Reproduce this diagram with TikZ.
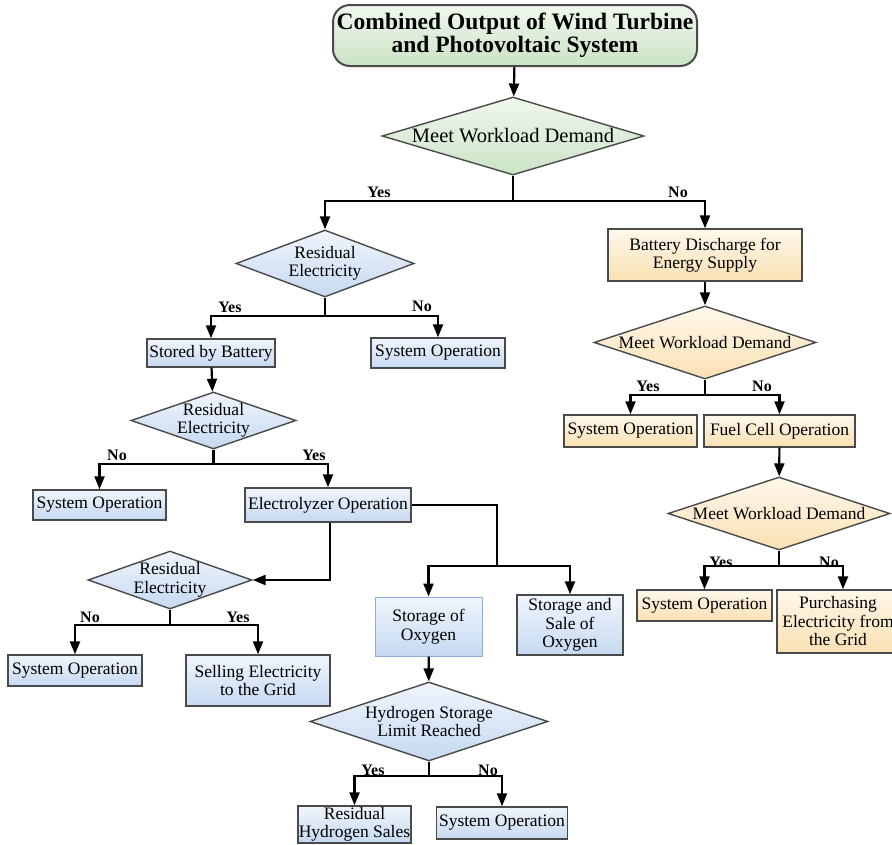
\documentclass[tikz,border=0pt]{standalone}
\usepackage{fontspec}
\setmainfont{Liberation Serif}
\usetikzlibrary{shapes.geometric,arrows.meta}
\definecolor{boxline}{HTML}{4A4A4A}
\definecolor{greenT}{HTML}{F0F8EE}
\definecolor{greenB}{HTML}{CBE3C6}
\definecolor{blueT}{HTML}{F0F5FC}
\definecolor{blueB}{HTML}{C6D9F1}
\definecolor{yelT}{HTML}{FFF8EC}
\definecolor{yelB}{HTML}{F9E0B2}
\definecolor{lightblueline}{HTML}{8CACDC}
\begin{document}
\begin{tikzpicture}[x=1pt,y=-1pt,
  every node/.style={font=\fontsize{17.5}{18.5}\selectfont, align=center, inner sep=0pt},
  box/.style={rectangle, draw=boxline, line width=1.4pt},
  bluebox/.style={box, top color=blueT, bottom color=blueB},
  yelbox/.style={box, top color=yelT, bottom color=yelB},
  dia/.style={diamond, draw=boxline, line width=1.4pt, aspect=3},
  bluedia/.style={dia, top color=blueT, bottom color=blueB},
  yeldia/.style={dia, top color=yelT, bottom color=yelB},
  greendia/.style={dia, top color=greenT, bottom color=greenB},
  conn/.style={line width=2.2pt, black},
  arr/.style={conn, -{Triangle[length=13pt,width=10pt]}},
  lab/.style={font=\fontsize{16}{16}\bfseries\selectfont}
]
\useasboundingbox (0,0) rectangle (892,844);
\fill[white] (0,0) rectangle (892,844);
\clip (0,0) rectangle (892,844);

% title
\node[rectangle, rounded corners=17pt, draw=boxline, line width=2pt,
  top color=greenT, bottom color=greenB, minimum width=364pt, minimum height=61pt,
  font=\fontsize{23.5}{23}\bfseries\selectfont] (title) at (515,35.5)
  {Combined Output of Wind Turbine\\and Photovoltaic System};

% diamonds
\node[greendia, minimum width=262pt, minimum height=78pt,
  label={[font=\fontsize{20.5}{20}\selectfont]center:Meet Workload Demand}] (d1) at (513,136) {};
\node[bluedia, minimum width=178pt, minimum height=67pt,
  label={center:{Residual\\Electricity}}] (d2) at (325,263.5) {};
\node[bluedia, minimum width=165pt, minimum height=57pt,
  label={center:{Residual\\Electricity}}] (d3) at (213.5,420.5) {};
\node[bluedia, minimum width=164pt, minimum height=58pt,
  label={center:{Residual\\Electricity}}] (d4) at (170,580) {};
\node[bluedia, minimum width=238pt, minimum height=79pt,
  label={center:{Hydrogen Storage\\Limit Reached}}] (d5) at (429,721.5) {};
\node[yeldia, minimum width=222pt, minimum height=73pt,
  label={center:Meet Workload Demand}] (d6) at (705,342.5) {};
\node[yeldia, minimum width=222pt, minimum height=73pt,
  label={center:Meet Workload Demand}] (d7) at (779,513.5) {};

% blue boxes
\node[bluebox, minimum width=128pt, minimum height=28pt] (sb) at (211,353) {Stored by Battery};
\node[bluebox, minimum width=134pt, minimum height=30pt] (so1) at (438,353) {System Operation};
\node[bluebox, minimum width=133pt, minimum height=30pt] (so2) at (99.5,505) {System Operation};
\node[bluebox, minimum width=166pt, minimum height=34pt] (eo) at (328,505) {Electrolyzer Operation};
\node[bluebox, minimum width=134pt, minimum height=31pt] (so3) at (75,670.5) {System Operation};
\node[bluebox, minimum width=144pt, minimum height=51pt] (sell) at (258,680.5) {Selling Electricity\\to the Grid};
\node[bluebox, draw=lightblueline, line width=1pt, minimum width=107pt, minimum height=59pt] (sox) at (428.5,626.5) {Storage of\\Oxygen};
\node[bluebox, minimum width=106pt, minimum height=60pt] (sso) at (570,625) {Storage and\\Sale of\\Oxygen};
\node[bluebox, minimum width=113pt, minimum height=37pt] (rhs) at (354.5,824.5) {Residual\\Hydrogen Sales};
\node[bluebox, minimum width=131pt, minimum height=32pt] (so4) at (502,823) {System Operation};

% yellow boxes
\node[yelbox, minimum width=194pt, minimum height=52pt] (bd) at (705,255) {Battery Discharge for\\Energy Supply};
\node[yelbox, minimum width=133pt, minimum height=32pt] (so5) at (630.5,431) {System Operation};
\node[yelbox, minimum width=151pt, minimum height=32pt] (fc) at (779.5,431) {Fuel Cell Operation};
\node[yelbox, minimum width=135pt, minimum height=31pt] (so6) at (704.5,605.5) {System Operation};
\node[yelbox, minimum width=122pt, minimum height=63pt] (pe) at (838,621.5) {Purchasing\\Electricity from\\the Grid};

% junctions
\coordinate (j1) at (513,201);
\coordinate (j2) at (325,316);
\coordinate (j3) at (213.5,464);
\coordinate (j4) at (497,566);
\coordinate (j5) at (170,625);
\coordinate (j6) at (429,776);
\coordinate (j7) at (705,395);
\coordinate (j8) at (779,566);

% connectors
\draw[arr] (title) -- (d1);
\draw[conn] (d1.south) -- (j1);
\draw[arr] (j1) -| (d2.north);
\draw[arr] (j1) -| (bd.north);

\draw[conn] (d2.south) -- (j2);
\draw[arr] (j2) -| (sb.north);
\draw[arr] (j2) -| (so1.north);

\draw[arr] (sb) -- (d3);
\draw[conn] (d3.south) -- (j3);
\draw[arr] (j3) -| (so2.north);
\draw[arr] (j3) -| (eo.north);

\draw[conn] (eo.east) -| (j4);
\draw[arr] (j4) -| (sox.north);
\draw[arr] (j4) -| (sso.north);
\draw[arr] ([xshift=2pt]eo.south) |- (d4.east);

\draw[conn] (d4.south) -- (j5);
\draw[arr] (j5) -| (so3.north);
\draw[arr] (j5) -| (sell.north);

\draw[arr] (sox) -- (d5);
\draw[conn] (d5.south) -- (j6);
\draw[arr] (j6) -| (rhs.north);
\draw[arr] (j6) -| (so4.north);

\draw[arr] (bd) -- (d6);
\draw[conn] (d6.south) -- (j7);
\draw[arr] (j7) -| (so5.north);
\draw[arr] (j7) -| (fc.north);

\draw[arr] (fc) -- (d7);
\draw[conn] (d7.south) -- (j8);
\draw[arr] (j8) -| (so6.north);
\draw[arr] (j8) -| ([xshift=5pt]pe.north);

% labels
\node[lab] (l1y) at (379,192) {Yes};
\node[lab] (l1n) at (678,192) {No};
\node[lab] (l2y) at (230,307) {Yes};
\node[lab] (l2n) at (422,306) {No};
\node[lab] (l3n) at (117,455) {No};
\node[lab] (l3y) at (314,455) {Yes};
\node[lab] (l4n) at (90,617) {No};
\node[lab] (l4y) at (238,617) {Yes};
\node[lab] (l5y) at (373,770) {Yes};
\node[lab] (l5n) at (488,770) {No};
\node[lab] (l6y) at (648,386) {Yes};
\node[lab] (l6n) at (762,386) {No};
\node[lab] (l7y) at (721,562) {Yes};
\node[lab] (l7n) at (829,562) {No};
\end{tikzpicture}
\end{document}
